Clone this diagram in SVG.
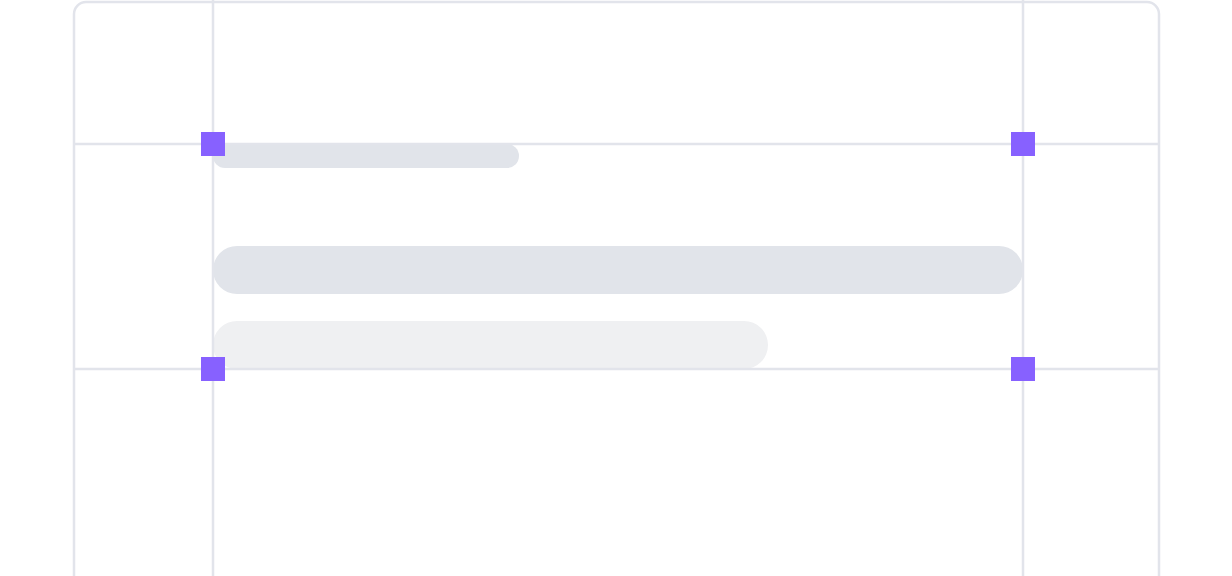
<svg xmlns="http://www.w3.org/2000/svg" width="1232" height="576" viewBox="0 0 1232 576">
<style>
.frame{fill:none;stroke:#e2e4eb;stroke-width:2.5}
.guide{stroke:#e2e4eb;stroke-width:2.5}
.bar{fill:#e1e4ea}
.bar-light{fill:#eff0f2}
.handle{fill:#8761ff}
</style>
<rect width="1232" height="576" fill="#ffffff"/>
<g id="frame">
<rect class="frame" x="74" y="2" width="1085" height="600" rx="12"/>
</g>
<g id="bars">
<rect id="bar-short" class="bar" x="213" y="144" width="306" height="24" rx="12"/>
<rect id="bar-long" class="bar" x="213" y="246" width="810" height="48" rx="24"/>
<rect id="bar-medium" class="bar-light" x="213" y="321" width="555" height="48" rx="24"/>
</g>
<g id="connectors">
<line class="guide" x1="213" y1="0" x2="213" y2="576"/>
<line class="guide" x1="1023" y1="0" x2="1023" y2="576"/>
<line class="guide" x1="74" y1="144" x2="1159" y2="144"/>
<line class="guide" x1="74" y1="369" x2="1159" y2="369"/>
</g>
<g id="handles">
<rect id="h-tl" class="handle" x="201" y="132" width="24" height="24"/>
<rect id="h-tr" class="handle" x="1011" y="132" width="24" height="24"/>
<rect id="h-bl" class="handle" x="201" y="357" width="24" height="24"/>
<rect id="h-br" class="handle" x="1011" y="357" width="24" height="24"/>
</g>
</svg>
